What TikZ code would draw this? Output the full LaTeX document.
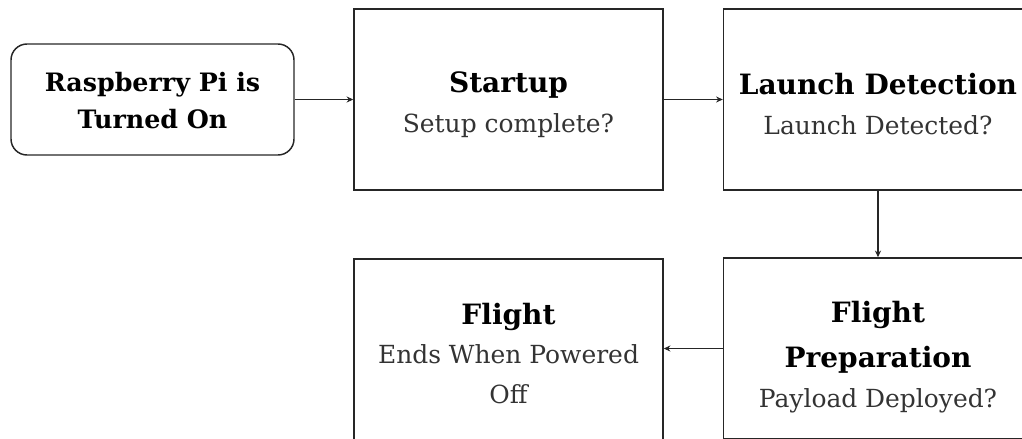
\documentclass[tikz,border=0pt]{standalone}
\usepackage{fontspec}
\setmainfont{DejaVu Serif}
\usetikzlibrary{arrows.meta}

\newcommand{\boxtitle}{\fontsize{21}{33.75}\selectfont\bfseries\color{black}}
\newcommand{\powertitle}{\fontsize{19}{30}\selectfont\bfseries\color{black}}
\newcommand{\boxtext}{\fontsize{18.7}{30}\selectfont}
% taller first line, pushes the text block down in its box
\newcommand{\topgap}[1]{\rule{0pt}{#1}}

\tikzset{
    stage/.style={draw=black!85, line width=1.1pt, minimum width=309*0.75pt,
        minimum height=181*0.75pt, align=center, font=\boxtext, text=black!80},
    powerbox/.style={stage, rounded corners=12pt, minimum width=283*0.75pt,
        minimum height=111*0.75pt},
    flow/.style={draw=black!85, line width=0.9pt, -{Stealth[length=5pt,width=4.5pt]}}
}

\begin{document}
\begin{tikzpicture}[x=0.75pt, y=-0.75pt]
    \clip (0,0) rectangle (1022,439);

    % states of the flight software
    \node[powerbox] (power) at (152.5,99.5) {{\powertitle\topgap{16pt}Raspberry Pi is}\\[-2pt]{\powertitle Turned On}};
    \node[stage] (startup) at (508.5,99.5) {{\boxtitle\topgap{23pt}Startup}\\Setup complete?};
    \node[stage] (detect) at (878,99.5) {{\boxtitle\topgap{23pt}Launch Detection}\\Launch Detected?};
    \node[stage] (prep) at (878,348.5) {{\boxtitle\topgap{29pt}Flight}\\[3.75pt]{\boxtitle Preparation}\\Payload Deployed?};
    \node[stage] (flight) at (508.5,349.5) {{\boxtitle\topgap{22pt}Flight}\\[-1pt]Ends When Powered\\Off};

    % transitions
    \draw[flow] (power) -- (startup);
    \draw[flow] (startup) -- (detect);
    \draw[flow] (detect) -- (prep);
    \draw[flow] (prep.west) -- (flight.east |- prep.west);
\end{tikzpicture}
\end{document}
